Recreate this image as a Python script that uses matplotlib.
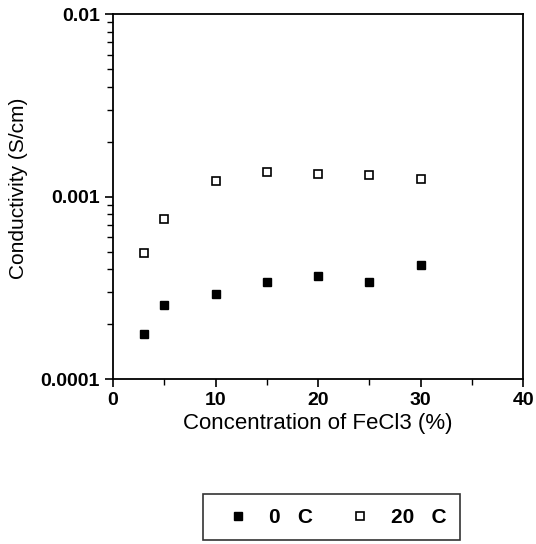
import matplotlib
matplotlib.use("Agg")
import matplotlib.pyplot as plt
from matplotlib.ticker import LogLocator, MultipleLocator, FixedLocator, NullFormatter

plt.rcParams['font.family'] = ['Liberation Sans', 'DejaVu Sans']

# FeCl3 concentration (%)
conc = [3, 5, 10, 15, 20, 25, 30]
# conductivity (S/cm)
cond_0c = [0.000177, 0.000254, 0.000292, 0.00034, 0.000367, 0.00034, 0.000421]
cond_20c = [0.00049, 0.00075, 0.00122, 0.00136, 0.00133, 0.00131, 0.00125]

yticks = [0.0001, 0.001, 0.01]
ytick_labels = ['0.0001', '0.001', '0.01']

fig = plt.figure(figsize=(5.36, 5.44), dpi=100)
ax = fig.add_axes([0.211, 0.303, 0.765, 0.671])

ax.plot(conc, cond_0c, ls='none', marker='s', ms=6, mfc='black', mec='black', label='0   C')
ax.plot(conc, cond_20c, ls='none', marker='s', ms=6, mfc='white', mec='black', mew=1.2, label='20   C')

ax.set_yscale('log')
ax.set_ylim(0.0001, 0.01)
ax.set_xlim(0, 40)
ax.xaxis.set_major_locator(MultipleLocator(10))
ax.xaxis.set_minor_locator(MultipleLocator(5))
ax.yaxis.set_major_locator(FixedLocator(yticks))
ax.yaxis.set_minor_locator(LogLocator(base=10, subs=range(2, 10)))
ax.yaxis.set_minor_formatter(NullFormatter())
ax.set_yticklabels(ytick_labels)

ax.tick_params(which='major', direction='out', length=6, width=1.2, labelsize=14)
ax.tick_params(which='minor', direction='out', length=4, width=1)
ax.tick_params(axis='x', pad=3)
ax.tick_params(top=False, right=False, which='both')
for lab in ax.get_xticklabels() + ax.get_yticklabels():
    lab.set_fontweight('bold')
for s in ax.spines.values():
    s.set_linewidth(1.3)

ax.set_xlabel('Concentration of FeCl3 (%)', fontsize=16)
ax.set_ylabel('Conductivity (S/cm)', fontsize=15)
ax.xaxis.set_label_coords(0.5, -0.092)
ax.yaxis.set_label_coords(-0.208, 0.523)

leg = fig.legend(loc='center', bbox_to_anchor=(0.619, 0.049), ncol=2, frameon=True,
                 fancybox=False, edgecolor='black', fontsize=15, handlelength=2.0,
                 columnspacing=1.25, borderpad=0.65, handletextpad=0.5, markerscale=0.85)
leg.get_frame().set_linewidth(1.2)
for t in leg.get_texts():
    t.set_fontweight('bold')

fig.savefig('out.png', dpi=100)
